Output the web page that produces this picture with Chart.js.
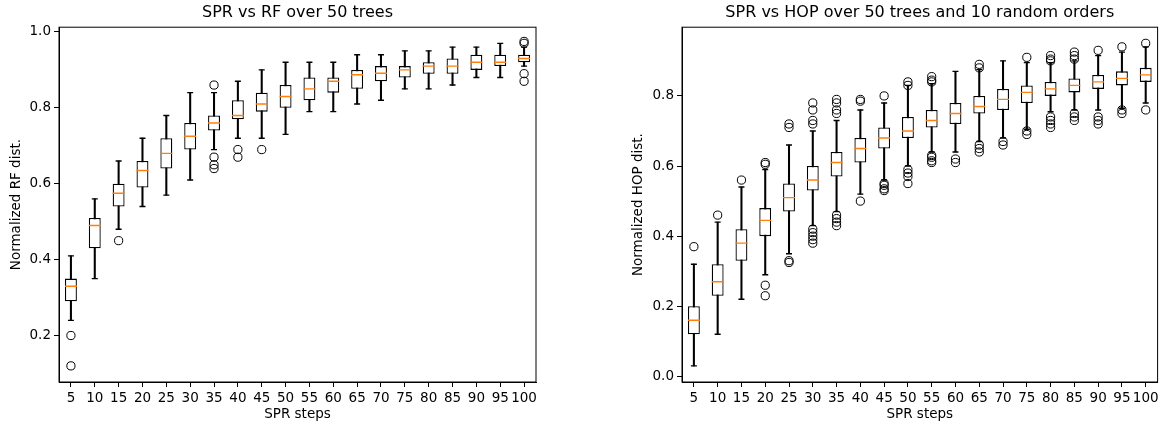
<!DOCTYPE html>
<html>
<head>
<meta charset="utf-8">
<script src="https://cdn.jsdelivr.net/npm/chart.js@4.4.1/dist/chart.umd.min.js"></script>
<style>
  html, body { margin: 0; padding: 0; background: #fff; overflow: hidden; }
  canvas { position: absolute; top: 0; }
  #rfChart { left: 0; }
  #hopChart { left: 622px; }
</style>
</head>
<body>
<canvas id="rfChart" width="560" height="430"></canvas>
<canvas id="hopChart" width="543" height="430"></canvas>
<script>
// SPR step counts (x categories), shared by both panels
const steps = ['5', '10', '15', '20', '25', '30', '35', '40', '45', '50',
               '55', '60', '65', '70', '75', '80', '85', '90', '95', '100'];

// Left panel: normalized RF distance
const rfLow  = [0.24, 0.35, 0.48, 0.54, 0.57, 0.61, 0.69, 0.72, 0.72, 0.73, 0.79, 0.79, 0.81, 0.82, 0.85, 0.85, 0.86, 0.88, 0.88, 0.91];
const rfQ1   = [0.29, 0.43, 0.54, 0.59, 0.64, 0.69, 0.74, 0.77, 0.79, 0.80, 0.82, 0.84, 0.85, 0.87, 0.88, 0.89, 0.89, 0.90, 0.91, 0.92];
const rfMed  = [0.33, 0.49, 0.575, 0.635, 0.68, 0.725, 0.76, 0.78, 0.81, 0.83, 0.85, 0.87, 0.887, 0.891, 0.90, 0.91, 0.91, 0.92, 0.92, 0.93];
const rfQ3   = [0.35, 0.51, 0.60, 0.66, 0.72, 0.76, 0.78, 0.82, 0.84, 0.86, 0.88, 0.88, 0.90, 0.91, 0.91, 0.92, 0.93, 0.94, 0.94, 0.94];
const rfHigh = [0.41, 0.56, 0.66, 0.72, 0.78, 0.84, 0.84, 0.87, 0.90, 0.92, 0.92, 0.92, 0.94, 0.94, 0.95, 0.95, 0.96, 0.96, 0.97, 0.96];
const rfFliers = [[0.20, 0.12], [], [0.45], [], [], [], [0.86, 0.67, 0.65, 0.64], [0.69, 0.67], [0.69], [],
                  [], [], [], [], [], [], [], [], [], [0.97, 0.975, 0.89, 0.87]];
const rfTicks = [0.2, 0.4, 0.6, 0.8, 1.0];

// Right panel: normalized HOP distance
const hopLow  = [0.03, 0.12, 0.22, 0.29, 0.35, 0.43, 0.47, 0.52, 0.56, 0.60, 0.64, 0.64, 0.67, 0.68, 0.705, 0.755, 0.76, 0.76, 0.765, 0.78];
const hopQ1   = [0.12, 0.23, 0.33, 0.40, 0.47, 0.53, 0.57, 0.61, 0.65, 0.68, 0.71, 0.72, 0.75, 0.76, 0.78, 0.80, 0.81, 0.82, 0.83, 0.84];
const hopMed  = [0.16, 0.27, 0.38, 0.445, 0.51, 0.56, 0.61, 0.65, 0.68, 0.70, 0.73, 0.75, 0.77, 0.79, 0.81, 0.82, 0.83, 0.84, 0.85, 0.86];
const hopQ3   = [0.20, 0.32, 0.42, 0.48, 0.55, 0.60, 0.64, 0.68, 0.71, 0.74, 0.76, 0.78, 0.80, 0.82, 0.83, 0.84, 0.85, 0.86, 0.87, 0.88];
const hopHigh = [0.32, 0.44, 0.54, 0.59, 0.66, 0.70, 0.73, 0.76, 0.78, 0.83, 0.835, 0.87, 0.875, 0.90, 0.895, 0.895, 0.90, 0.915, 0.925, 0.94];
const hopFliers = [
    [0.37], [0.46], [0.56], [0.61, 0.605, 0.26, 0.23], [0.72, 0.71, 0.33, 0.325],
    [0.78, 0.76, 0.73, 0.72, 0.42, 0.41, 0.40, 0.39, 0.38],
    [0.79, 0.78, 0.76, 0.75, 0.46, 0.45, 0.44, 0.43],
    [0.79, 0.785, 0.50], [0.80, 0.55, 0.545, 0.535, 0.53],
    [0.84, 0.83, 0.59, 0.58, 0.57, 0.55],
    [0.855, 0.845, 0.84, 0.63, 0.625, 0.615, 0.61],
    [0.62, 0.61], [0.89, 0.88, 0.66, 0.65, 0.64], [0.67, 0.66], [0.91, 0.70, 0.69],
    [0.915, 0.905, 0.90, 0.74, 0.73, 0.72, 0.71], [0.925, 0.915, 0.905, 0.75, 0.74, 0.73],
    [0.93, 0.74, 0.73, 0.72], [0.94, 0.76, 0.75], [0.95, 0.76]
];
const hopTicks = [0.0, 0.2, 0.4, 0.6, 0.8];

const FONT = 'DejaVu Sans';
const MEDIAN_COLOR = '#ff7f0e';

// draws the top and right spines
const frame = {
    id: 'frame',
    afterDraw(chart) {
        const { ctx, chartArea: a } = chart;
        ctx.save();
        ctx.strokeStyle = '#000';
        ctx.lineWidth = 1;
        ctx.strokeRect(a.left, a.top, a.right - a.left, a.bottom - a.top);
        ctx.restore();
    }
};

function boxChart(id, o) {
    const capPts = [], flierPts = [];
    steps.forEach((s, i) => {
        capPts.push({ x: s, y: o.low[i] }, { x: s, y: o.high[i] });
        o.fliers[i].forEach(v => flierPts.push({ x: s, y: v }));
    });

    new Chart(document.getElementById(id), {
        type: 'bar',
        data: {
            labels: steps,
            datasets: [
                {   // whiskers
                    data: o.low.map((v, i) => [v, o.high[i]]),
                    backgroundColor: '#000', borderWidth: 0,
                    barThickness: 1.4, grouped: false, order: 5
                },
                {   // boxes
                    data: o.q1.map((v, i) => [v, o.q3[i]]),
                    backgroundColor: '#fff', borderColor: '#000', borderWidth: 1.3,
                    borderSkipped: false, barPercentage: 0.5, categoryPercentage: 1.0,
                    grouped: false, order: 4
                },
                {   // medians
                    type: 'scatter',
                    data: o.med.map((v, i) => ({ x: steps[i], y: v })),
                    pointStyle: 'line', pointRadius: 6, borderColor: MEDIAN_COLOR,
                    pointBorderColor: MEDIAN_COLOR, pointBorderWidth: 1.4, order: 3
                },
                {   // whisker caps
                    type: 'scatter',
                    data: capPts,
                    pointStyle: 'line', pointRadius: 3, borderColor: '#000',
                    pointBorderColor: '#000', pointBorderWidth: 1.4, order: 2
                },
                {   // outliers
                    type: 'scatter',
                    data: flierPts,
                    pointStyle: 'circle', pointRadius: 4.1, borderColor: '#000',
                    pointBorderColor: '#000', pointBackgroundColor: 'rgba(0,0,0,0)',
                    pointBorderWidth: 1, order: 1
                }
            ]
        },
        options: {
            responsive: false,
            animation: false,
            events: [],
            layout: { padding: { left: 0, right: o.padRight, top: 0, bottom: 0 } },
            plugins: {
                legend: { display: false },
                tooltip: { enabled: false },
                title: {
                    display: true, text: o.title, color: '#000', fullSize: false,
                    font: { family: FONT, size: 16, weight: 'normal' },
                    padding: { top: 3, bottom: 5 }
                }
            },
            scales: {
                x: {
                    type: 'category', offset: true,
                    afterFit: s => { s.height = 48; },
                    grid: { display: true, offset: false, drawOnChartArea: false, drawTicks: true, tickLength: 5, tickColor: '#000', tickWidth: 1 },
                    border: { display: true, color: '#000', width: 1 },
                    ticks: { color: '#000', font: { family: FONT, size: 13.5 }, padding: 3, maxRotation: 0, autoSkip: false },
                    title: { display: true, text: 'SPR steps', color: '#000', font: { family: FONT, size: 13.5 }, padding: { top: 0, bottom: 7 } }
                },
                y: {
                    type: 'linear', min: o.min, max: o.max,
                    afterFit: s => { s.width = o.axisWidth; },
                    afterBuildTicks: s => { s.ticks = o.ticks.map(v => ({ value: v })); },
                    grid: { display: true, drawOnChartArea: false, drawTicks: true, tickLength: 5, tickColor: '#000', tickWidth: 1 },
                    border: { display: true, color: '#000', width: 1 },
                    ticks: { color: '#000', font: { family: FONT, size: 13.5 }, padding: 3, callback: v => v.toFixed(1) },
                    title: { display: true, text: o.yLabel, color: '#000', font: { family: FONT, size: 13.5 }, padding: { top: 8, bottom: 0 } }
                }
            }
        },
        plugins: [frame]
    });
}

boxChart('rfChart', {
    title: 'SPR vs RF over 50 trees', yLabel: 'Normalized RF dist.',
    low: rfLow, q1: rfQ1, med: rfMed, q3: rfQ3, high: rfHigh, fliers: rfFliers,
    ticks: rfTicks, min: 0.0775, max: 1.0125, axisWidth: 59, padRight: 24
});

boxChart('hopChart', {
    title: 'SPR vs HOP over 50 trees and 10 random orders', yLabel: 'Normalized HOP dist.',
    low: hopLow, q1: hopQ1, med: hopMed, q3: hopQ3, high: hopHigh, fliers: hopFliers,
    ticks: hopTicks, min: -0.016, max: 0.996, axisWidth: 60, padRight: 6
});
</script>
</body>
</html>
